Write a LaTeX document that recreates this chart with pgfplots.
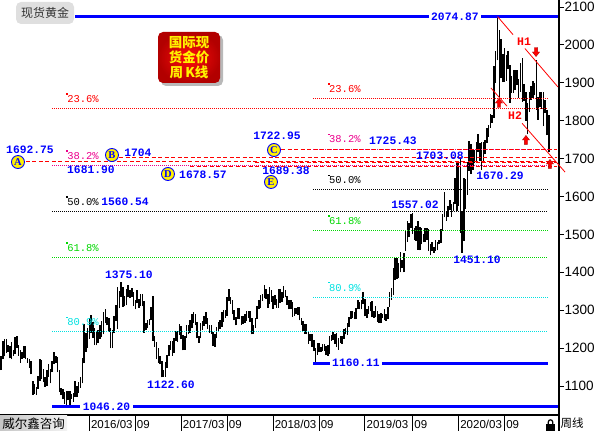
\documentclass[border=0pt]{standalone}
\usepackage{pgfplots}
\pgfplotsset{compat=1.18}
\usepackage{pgfplotstable}
\usepackage{fontspec}
\setmainfont{Liberation Sans}
\setmonofont{Liberation Mono}
\newfontfamily\cjk{Noto Sans CJK SC}
\newfontfamily\lserif{Liberation Serif}

\definecolor{fibgreen}{RGB}{0,215,0}
\definecolor{fibcyan}{RGB}{0,225,225}

% weekly candles, week 0 = 2015-03-16 ... week 310 = 2021-02-22 (low, high)
\pgfplotstableread{
lo hi
1142 1178
1170 1219
1178 1224
1187 1224
1190 1209
1173 1206
1170 1215
1180 1194
1184 1228
1201 1232
1180 1208
1162 1196
1172 1190
1175 1205
1170 1205
1162 1175
1147 1170
1131 1165
1077 1114
1079 1104
1077 1098
1093 1126
1113 1170
1118 1168
1110 1146
1098 1125
1100 1142
1124 1157
1107 1144
1136 1166
1159 1191
1162 1178
1136 1177
1084 1142
1077 1096
1065 1091
1052 1083
1046.2 1088
1062 1088
1050 1088
1066 1080
1058 1082
1071 1112
1071 1099
1081 1111
1096 1125
1107 1174
1160 1263
1191 1240
1201 1253
1225 1280
1241 1287
1227 1270
1208 1253
1207 1243
1213 1247
1225 1261
1228 1272
1236 1296
1266 1303
1260 1283
1243 1280
1199 1254
1200 1247
1239 1284
1271 1315
1250 1362
1305 1350
1336 1375.1
1309 1360
1310 1338
1313 1357
1334 1367
1331 1353
1335 1358
1311 1347
1302 1327
1318 1352
1306 1330
1310 1344
1310 1344
1241 1325
1248 1267
1252 1274
1262 1278
1273 1308
1219 1338
1203 1232
1171 1216
1162 1199
1157 1180
1122.6 1166
1124 1142
1124 1163
1147 1182
1180 1207
1195 1219
1180 1220
1188 1226
1220 1245
1216 1245
1235 1264
1223 1259
1194 1234
1196 1231
1227 1261
1236 1260
1241 1274
1252 1289
1266 1295
1260 1290
1226 1268
1214 1233
1226 1265
1248 1271
1259 1285
1264 1296
1251 1280
1240 1260
1237 1262
1205 1243
1204 1236
1226 1257
1245 1270
1250 1275
1257 1296
1270 1301
1280 1300
1286 1334
1323 1357
1317 1335
1289 1326
1274 1301
1260 1281
1277 1306
1276 1306
1262 1284
1264 1286
1267 1291
1271 1297
1280 1299
1269 1299
1236 1279
1237 1261
1254 1279
1276 1310
1302 1326
1307 1340
1324 1344
1331 1366
1330 1355
1307 1343
1317 1362
1322 1353
1303 1337
1315 1340
1306 1330
1307 1356
1320 1357
1322 1347
1333 1365
1334 1353
1314 1337
1302 1327
1304 1326
1282 1322
1286 1306
1289 1306
1288 1309
1273 1309
1261 1280
1245 1271
1238 1264
1236 1264
1211 1245
1219 1236
1204 1236
1192 1222
1160.11 1199
1183 1214
1189 1214
1190 1204
1192 1211
1193 1210
1181 1205
1180 1207
1184 1233
1219 1234
1221 1243
1211 1237
1203 1239
1196 1226
1213 1231
1211 1231
1225 1250
1236 1252
1235 1267
1256 1283
1276 1298
1279 1297
1276 1296
1276 1305
1302 1326
1302 1322
1302 1327
1317 1347
1284 1330
1280 1302
1290 1310
1297 1321
1281 1325
1280 1298
1281 1310
1270 1297
1266 1289
1266 1292
1279 1289
1274 1303
1272 1289
1276 1308
1309 1348
1327 1358
1340 1411
1381 1439
1382 1438
1384 1425
1400 1453
1411 1433
1400 1450
1457 1510
1480 1535
1492 1531
1518 1555
1502 1557.02
1485 1516
1483 1523
1459 1535
1458 1519
1474 1517
1479 1500
1480 1518
1485 1516
1456 1513
1445 1475
1456 1479
1451 1466
1456 1485
1458 1481
1474 1486
1478 1515
1510 1553
1545 1611
1536 1563
1546 1575
1565 1591
1547 1580
1562 1585
1580 1649
1563 1689
1576 1692
1504 1703.08
1451.1 1561
1482 1650
1567 1645
1604 1690
1668 1747
1659 1738
1670 1722
1688 1722
1688 1744
1717 1765
1693 1741
1670.29 1744
1691 1745
1711 1748
1741 1780
1758 1789
1782 1818
1794 1815
1807 1945
1900 1984
1959 2074.87
1863 2039
1912 2016
1902 1976
1903 1992
1906 1973
1936 1983
1848 1946
1873 1917
1873 1933
1882 1933
1893 1933
1860 1910
1877 1952
1850 1966
1853 1898
1800 1875
1764 1848
1823 1875
1855 1891
1860 1906
1867 1900
1829 1959
1803 1863
1835 1875
1831 1875
1785 1875
1821 1855
1761 1828
1717 1815
}\candles

\tikzset{
  num/.style={text=blue, font=\ttfamily\bfseries\fontsize{11.3}{11.3}\selectfont, inner sep=0pt},
  fib/.style={font=\ttfamily\fontsize{10.5}{10.5}\selectfont, inner sep=0pt, anchor=west},
  circ/.style={circle, draw=blue, fill=yellow, line width=0.9pt, minimum size=13pt,
    inner sep=0pt, text=blue, font=\lserif\bfseries\fontsize{10.5}{10.5}\selectfont},
  hl/.style={text=red, font=\ttfamily\bfseries\fontsize{11.5}{11.5}\selectfont, inner sep=0pt},
  uparr/.pic={\filldraw[fill=red, draw=red!65!black, line width=0.3pt]
    (-3.6pt,0pt) -- (0pt,4.6pt) -- (3.6pt,0pt) -- (1.6pt,0pt) -- (1.6pt,-4.4pt)
    -- (-1.6pt,-4.4pt) -- (-1.6pt,0pt) -- cycle;},
  dnarr/.pic={\filldraw[fill=red, draw=red!65!black, line width=0.3pt]
    (-3.6pt,0pt) -- (0pt,-4.6pt) -- (3.6pt,0pt) -- (1.6pt,0pt) -- (1.6pt,4.4pt)
    -- (-1.6pt,4.4pt) -- (-1.6pt,0pt) -- cycle;},
}

\begin{document}
\begin{tikzpicture}[x=1pt,y=1pt]
\begin{axis}[
  at={(0pt,16pt)}, anchor=south west,
  scale only axis, width=559pt, height=415pt,
  xmin=-0.566, xmax=315.8, ymin=1023.5, ymax=2118.5,
  axis x line*=bottom, axis y line*=right,
  axis line style={-, line width=1.5pt, black},
  clip=false,
  tick align=outside, major tick length=5pt,
  ytick={1100,1200,...,2100},
  y tick style={line width=1pt, black},
  yticklabel style={font=\fontsize{13.5}{13.5}\selectfont, anchor=west, inner sep=0pt, xshift=0.5pt},
  /pgf/number format/assume math mode=true,
  /pgf/number format/1000 sep={},
  xtick={50,76,102,128,154,180,206,233,259,285},
  xticklabels={2016/03,09,2017/03,09,2018/03,09,2019/03,09,2020/03,09},
  x tick style={draw=none},
  xticklabel style={font=\fontsize{11.5}{11.5}\selectfont, anchor=north west, inner sep=0pt, xshift=1.5pt},
]
% candles
\addplot[draw=none, mark=none, forget plot,
  error bars/.cd, y dir=plus, y explicit, error mark=none,
  error bar style={draw=black, line width=1.5pt}]
  table[x expr=\coordindex, y=lo, y error plus expr=\thisrow{hi}-\thisrow{lo}] {\candles};

% left fibonacci set 1046.20 -> 2074.87
\addplot[red, line width=0.9pt, dash pattern=on 1pt off 1pt] coordinates {(28.9,1832.10) (309.6,1832.10)};
\addplot[magenta, line width=0.9pt, dash pattern=on 1pt off 1pt] coordinates {(28.9,1681.92) (309.6,1681.92)};
\addplot[black, line width=0.9pt, dash pattern=on 1pt off 1pt] coordinates {(28.9,1560.54) (309.6,1560.54)};
\addplot[fibgreen, line width=0.9pt, dash pattern=on 1pt off 1pt] coordinates {(28.9,1439.15) (309.6,1439.15)};
\addplot[fibcyan, line width=0.9pt, dash pattern=on 1pt off 1pt] coordinates {(28.9,1242.68) (309.6,1242.68)};
% right fibonacci set 1160.11 -> 2074.87
\addplot[red, line width=0.9pt, dash pattern=on 1pt off 1pt] coordinates {(176.6,1858.99) (309.6,1858.99)};
\addplot[magenta, line width=0.9pt, dash pattern=on 1pt off 1pt] coordinates {(176.6,1725.43) (309.6,1725.43)};
\addplot[black, line width=0.9pt, dash pattern=on 1pt off 1pt] coordinates {(176.6,1617.49) (309.6,1617.49)};
\addplot[fibgreen, line width=0.9pt, dash pattern=on 1pt off 1pt] coordinates {(176.6,1509.55) (309.6,1509.55)};
\addplot[fibcyan, line width=0.9pt, dash pattern=on 1pt off 1pt] coordinates {(176.6,1334.83) (309.6,1334.83)};

% red dashed levels
\addplot[red, line width=0.9pt, dash pattern=on 4pt off 2.5pt] coordinates {(14.1,1692.75) (314.7,1692.75)};
\addplot[red, line width=0.9pt, dash pattern=on 4pt off 2.5pt] coordinates {(66.8,1704) (314.7,1704)};
\addplot[red, line width=0.9pt, dash pattern=on 4pt off 2.5pt] coordinates {(158.5,1722.95) (314.7,1722.95)};
\addplot[red, line width=0.9pt, dash pattern=on 4pt off 2.5pt] coordinates {(107,1678.57) (314.7,1678.57)};
\addplot[red, line width=0.9pt, dash pattern=on 4pt off 2.5pt] coordinates {(143.7,1689.38) (314.7,1689.38)};

% blue extreme lines
\addplot[blue, line width=2.8pt] coordinates {(41.9,2074.87) (315.2,2074.87)};
\addplot[blue, line width=2.8pt] coordinates {(28.9,1046.20) (315.2,1046.20)};
\addplot[blue, line width=2.8pt] coordinates {(176.6,1160.11) (309.6,1160.11)};

% trend lines H1, H2
\addplot[red, line width=0.8pt] coordinates {(281,2074.87) (289.8,2027.0)};
\addplot[red, line width=0.8pt] coordinates {(296.5,1990.6) (315.2,1889.0)};
\addplot[red, line width=0.8pt] coordinates {(277.3,1886.3) (286.4,1838.2)};
\addplot[red, line width=0.8pt] coordinates {(294.9,1793.2) (319.2,1664.6)};

% labels on the blue lines
\node[num, fill=white, inner xsep=2.5pt, inner ysep=1pt] at (axis cs:256.9,2074.87) {2074.87};
\node[num, fill=white, inner xsep=2.5pt, inner ysep=1pt] at (axis cs:59.7,1046.20) {1046.20};
\node[num, fill=white, inner xsep=2.5pt, inner ysep=1pt] at (axis cs:200.9,1160.11) {1160.11};

% fib labels
\node[fib, text=red] (f1) at (axis cs:37.4,1857.1) {23.6\%};
\node[fib, text=magenta] (f2) at (axis cs:37.4,1706.9) {38.2\%};
\node[fib, text=black] (f3) at (axis cs:37.4,1585.5) {50.0\%};
\node[fib, text=fibgreen] (f4) at (axis cs:37.4,1464.2) {61.8\%};
\node[fib, text=fibcyan] (f5) at (axis cs:37.4,1267.7) {80.9\%};
\node[fib, text=red] (g1) at (axis cs:185.6,1884.0) {23.6\%};
\node[fib, text=magenta] (g2) at (axis cs:185.6,1750.4) {38.2\%};
\node[fib, text=black] (g3) at (axis cs:185.6,1642.5) {50.0\%};
\node[fib, text=fibgreen] (g4) at (axis cs:185.6,1534.6) {61.8\%};
\node[fib, text=fibcyan] (g5) at (axis cs:185.6,1359.8) {80.9\%};
\fill[red] (f1.north west) ++(-0.8pt,0.5pt) rectangle ++(1.6pt,1.6pt);
\fill[magenta] (f2.north west) ++(-0.8pt,0.5pt) rectangle ++(1.6pt,1.6pt);
\fill[black] (f3.north west) ++(-0.8pt,0.5pt) rectangle ++(1.6pt,1.6pt);
\fill[fibgreen] (f4.north west) ++(-0.8pt,0.5pt) rectangle ++(1.6pt,1.6pt);
\fill[fibcyan] (f5.north west) ++(-0.8pt,0.5pt) rectangle ++(1.6pt,1.6pt);
\fill[red] (g1.north west) ++(-0.8pt,0.5pt) rectangle ++(1.6pt,1.6pt);
\fill[magenta] (g2.north west) ++(-0.8pt,0.5pt) rectangle ++(1.6pt,1.6pt);
\fill[black] (g3.north west) ++(-0.8pt,0.5pt) rectangle ++(1.6pt,1.6pt);
\fill[fibgreen] (g4.north west) ++(-0.8pt,0.5pt) rectangle ++(1.6pt,1.6pt);
\fill[fibcyan] (g5.north west) ++(-0.8pt,0.5pt) rectangle ++(1.6pt,1.6pt);

% price labels
\node[num] at (axis cs:16.4,1722.7) {1692.75};
\node[num] at (axis cs:77.5,1714.8) {1704};
\node[num] at (axis cs:50.9,1669.9) {1681.90};
\node[num] at (axis cs:114.3,1656.7) {1678.57};
\node[num] at (axis cs:156.2,1759.6) {1722.95};
\node[num] at (axis cs:161.3,1667.3) {1689.38};
\node[num] at (axis cs:70.2,1585.5) {1560.54};
\node[num] at (axis cs:221.8,1746.4) {1725.43};
\node[num] at (axis cs:248.4,1706.9) {1703.08};
\node[num] at (axis cs:282.4,1654.1) {1670.29};
\node[num] at (axis cs:234.3,1577.6) {1557.02};
\node[num] at (axis cs:269.4,1432.5) {1451.10};
\node[num] at (axis cs:72.4,1392.9) {1375.10};
\node[num] at (axis cs:96.2,1102.6) {1122.60};

% lettered markers
\node[circ] at (axis cs:9.6,1691) {A};
\node[circ] at (axis cs:62.8,1709.5) {B};
\node[circ] at (axis cs:154.5,1722.7) {C};
\node[circ] at (axis cs:94.5,1659.4) {D};
\node[circ] at (axis cs:152.8,1638.3) {E};

% H labels and arrows
\node[hl] at (axis cs:296,2007.6) {H1};
\node[hl] at (axis cs:290.9,1812.4) {H2};
\pic at (axis cs:302.8,1981.3) {dnarr};
\pic at (axis cs:281.8,1846.7) {uparr};
\pic at (axis cs:297.1,1749.1) {uparr};
\pic at (axis cs:310.7,1685.8) {uparr};

% date separators in the bottom strip, right axis line down to the bottom
\pgfplotsinvokeforeach{50,76,102,128,154,180,206,233,259,285}{
  \draw[line width=1pt] (axis cs:#1,1023.5) -- ++(0pt,-16pt);
}
\draw[line width=1.5pt] (axis cs:315.8,1023.5) -- ++(0pt,-16pt);
\end{axis}

% title
\fill[gray!25, rounded corners=5pt] (16,407) rectangle (74,429);
\node[font=\cjk\fontsize{12}{12}\selectfont, text=black!80] at (45,418) {现货黄金};

% red button
\fill[gray!55, rounded corners=5pt] (161,345) rectangle (223,396);
\shade[inner color=red!95!white, outer color=red!70!black, rounded corners=5pt] (158,348) rectangle (220,399);
\node[align=center, text=yellow, font=\cjk\bfseries\fontsize{13.5}{15}\selectfont] at (189,373.5) {国际现\\货金价\\周\,K线};

% bottom strip
\shade[left color=gray!45, right color=gray!10] (0,0) rectangle (67,15);
\node[font=\cjk\fontsize{12.5}{12.5}\selectfont] at (33.5,7.5) {威尔鑫咨询};
\fill[black] (546,0) rectangle (555,6.5);
\draw[black, line width=1.2pt] (548.3,6.5) -- (548.3,9) arc (180:0:2.2pt) -- (552.7,6.5);
\node[font=\cjk\fontsize{11.5}{11.5}\selectfont] at (572,7.5) {周线};

\pgfresetboundingbox
\useasboundingbox (0,0) rectangle (600,431);
\end{tikzpicture}
\end{document}
